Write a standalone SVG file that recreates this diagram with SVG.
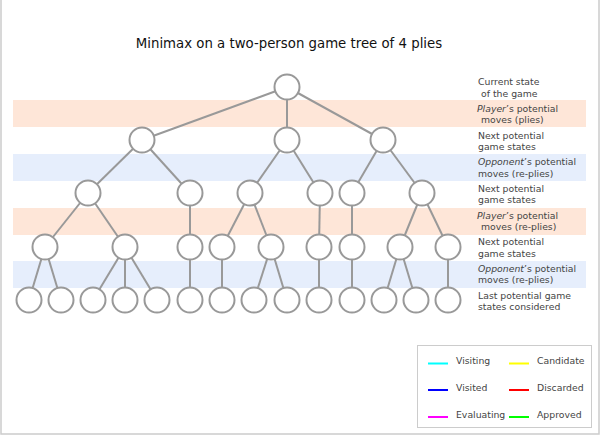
<svg xmlns="http://www.w3.org/2000/svg" width="600" height="435" viewBox="0 0 600 435">
<style>
.band-p{fill:#fee6d8}
.band-o{fill:#e6eefc}
.edge{stroke:#999;stroke-width:2;fill:none}
.node{fill:#fff;stroke:#999;stroke-width:2}
text{font-family:"DejaVu Sans",Verdana,sans-serif;fill:#444}
.lbl{font-size:9.3px}
.title{font-size:13.3px;fill:#111}
.leg{stroke-width:2}
</style>
<rect width="600" height="435" fill="#fff"/>
<path d="M1,0V434H599V0" fill="none" stroke="#ccc" stroke-width="1.5"/>
<g id="bands">
<rect class="band-p" x="13" y="100" width="573" height="27"/>
<rect class="band-o" x="13" y="154" width="573" height="27"/>
<rect class="band-p" x="13" y="208" width="573" height="27"/>
<rect class="band-o" x="13" y="261" width="573" height="27"/>
</g>
<text class="title" x="289" y="47.5" text-anchor="middle">Minimax on a two-person game tree of 4 plies</text>
<g id="labels" class="lbl">
<text class="lbl" x="478" y="85">Current state</text>
<text class="lbl" x="481" y="96.5">of the game</text>
<text class="lbl" x="477" y="112"><tspan font-style="italic">Player</tspan>’s potential</text>
<text class="lbl" x="481" y="123.3">moves (plies)</text>
<text class="lbl" x="478" y="138.5">Next potential</text>
<text class="lbl" x="478" y="149.8">game states</text>
<text class="lbl" x="478" y="165.2"><tspan font-style="italic">Opponent</tspan>’s potential</text>
<text class="lbl" x="478" y="176.5">moves (re-plies)</text>
<text class="lbl" x="478" y="191.9">Next potential</text>
<text class="lbl" x="478" y="203.2">game states</text>
<text class="lbl" x="477" y="218.6"><tspan font-style="italic">Player</tspan>’s potential</text>
<text class="lbl" x="481" y="229.9">moves (re-plies)</text>
<text class="lbl" x="478" y="245.3">Next potential</text>
<text class="lbl" x="478" y="256.6">game states</text>
<text class="lbl" x="478" y="272"><tspan font-style="italic">Opponent</tspan>’s potential</text>
<text class="lbl" x="478" y="283.3">moves (re-plies)</text>
<text class="lbl" x="478" y="298.7">Last potential game</text>
<text class="lbl" x="478" y="310">states considered</text>
</g>
<g id="connectors" class="edge">
<line x1="287" y1="87" x2="142" y2="140"/>
<line x1="287" y1="87" x2="287" y2="140"/>
<line x1="287" y1="87" x2="383" y2="140"/>
<line x1="142" y1="140" x2="88" y2="193"/>
<line x1="142" y1="140" x2="190" y2="193"/>
<line x1="287" y1="140" x2="250" y2="193"/>
<line x1="287" y1="140" x2="320" y2="193"/>
<line x1="383" y1="140" x2="352" y2="193"/>
<line x1="383" y1="140" x2="422" y2="193"/>
<line x1="88" y1="193" x2="45" y2="247"/>
<line x1="88" y1="193" x2="125" y2="247"/>
<line x1="190" y1="193" x2="190" y2="247"/>
<line x1="250" y1="193" x2="222" y2="247"/>
<line x1="250" y1="193" x2="271" y2="247"/>
<line x1="320" y1="193" x2="319" y2="247"/>
<line x1="352" y1="193" x2="352" y2="247"/>
<line x1="422" y1="193" x2="400" y2="247"/>
<line x1="422" y1="193" x2="448" y2="247"/>
<line x1="45" y1="247" x2="29" y2="300"/>
<line x1="45" y1="247" x2="61" y2="300"/>
<line x1="125" y1="247" x2="93" y2="300"/>
<line x1="125" y1="247" x2="125" y2="300"/>
<line x1="125" y1="247" x2="157" y2="300"/>
<line x1="190" y1="247" x2="190" y2="300"/>
<line x1="222" y1="247" x2="222" y2="300"/>
<line x1="271" y1="247" x2="254" y2="300"/>
<line x1="271" y1="247" x2="287" y2="300"/>
<line x1="319" y1="247" x2="319" y2="300"/>
<line x1="352" y1="247" x2="352" y2="300"/>
<line x1="400" y1="247" x2="384" y2="300"/>
<line x1="400" y1="247" x2="416" y2="300"/>
<line x1="448" y1="247" x2="448" y2="300"/>
</g>
<g id="nodes">
<g id="n0"><circle class="node" cx="287" cy="87" r="12.5"/></g>
<g id="n1"><circle class="node" cx="142" cy="140" r="12.5"/></g>
<g id="n2"><circle class="node" cx="287" cy="140" r="12.5"/></g>
<g id="n3"><circle class="node" cx="383" cy="140" r="12.5"/></g>
<g id="n4"><circle class="node" cx="88" cy="193" r="12.5"/></g>
<g id="n5"><circle class="node" cx="190" cy="193" r="12.5"/></g>
<g id="n6"><circle class="node" cx="250" cy="193" r="12.5"/></g>
<g id="n7"><circle class="node" cx="320" cy="193" r="12.5"/></g>
<g id="n8"><circle class="node" cx="352" cy="193" r="12.5"/></g>
<g id="n9"><circle class="node" cx="422" cy="193" r="12.5"/></g>
<g id="n10"><circle class="node" cx="45" cy="247" r="12.5"/></g>
<g id="n11"><circle class="node" cx="125" cy="247" r="12.5"/></g>
<g id="n12"><circle class="node" cx="190" cy="247" r="12.5"/></g>
<g id="n13"><circle class="node" cx="222" cy="247" r="12.5"/></g>
<g id="n14"><circle class="node" cx="271" cy="247" r="12.5"/></g>
<g id="n15"><circle class="node" cx="319" cy="247" r="12.5"/></g>
<g id="n16"><circle class="node" cx="352" cy="247" r="12.5"/></g>
<g id="n17"><circle class="node" cx="400" cy="247" r="12.5"/></g>
<g id="n18"><circle class="node" cx="448" cy="247" r="12.5"/></g>
<g id="n19"><circle class="node" cx="29" cy="300" r="12.5"/></g>
<g id="n20"><circle class="node" cx="61" cy="300" r="12.5"/></g>
<g id="n21"><circle class="node" cx="93" cy="300" r="12.5"/></g>
<g id="n22"><circle class="node" cx="125" cy="300" r="12.5"/></g>
<g id="n23"><circle class="node" cx="157" cy="300" r="12.5"/></g>
<g id="n24"><circle class="node" cx="190" cy="300" r="12.5"/></g>
<g id="n25"><circle class="node" cx="222" cy="300" r="12.5"/></g>
<g id="n26"><circle class="node" cx="254" cy="300" r="12.5"/></g>
<g id="n27"><circle class="node" cx="287" cy="300" r="12.5"/></g>
<g id="n28"><circle class="node" cx="319" cy="300" r="12.5"/></g>
<g id="n29"><circle class="node" cx="352" cy="300" r="12.5"/></g>
<g id="n30"><circle class="node" cx="384" cy="300" r="12.5"/></g>
<g id="n31"><circle class="node" cx="416" cy="300" r="12.5"/></g>
<g id="n32"><circle class="node" cx="448" cy="300" r="12.5"/></g>
</g>
<g id="legend">
<rect x="417.5" y="345.5" width="174" height="82" fill="#fff" stroke="#ccc" stroke-width="1"/>
<line class="leg" x1="428" y1="363.5" x2="448" y2="363.5" stroke="#00ffff"/>
<line class="leg" x1="428" y1="390" x2="448" y2="390" stroke="#0000ff"/>
<line class="leg" x1="428" y1="417" x2="448" y2="417" stroke="#ff00ff"/>
<line class="leg" x1="509" y1="363.5" x2="529" y2="363.5" stroke="#ffff00"/>
<line class="leg" x1="509" y1="390" x2="529" y2="390" stroke="#ff0000"/>
<line class="leg" x1="509" y1="417" x2="529" y2="417" stroke="#00ff00"/>
<text class="lbl" x="456" y="364">Visiting</text>
<text class="lbl" x="456" y="390.5">Visited</text>
<text class="lbl" x="456" y="417.5">Evaluating</text>
<text class="lbl" x="537" y="364">Candidate</text>
<text class="lbl" x="537" y="390.5">Discarded</text>
<text class="lbl" x="537" y="417.5">Approved</text>
</g>
</svg>
